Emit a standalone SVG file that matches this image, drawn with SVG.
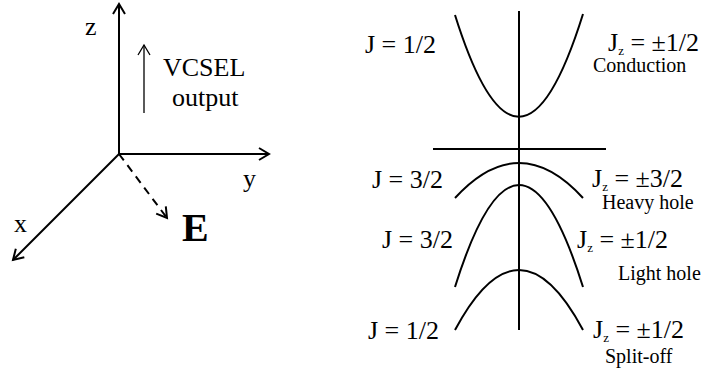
<svg xmlns="http://www.w3.org/2000/svg" width="708" height="372" viewBox="0 0 708 372">
<style>
text{font-family:"Liberation Serif","Times New Roman",serif;fill:#000}
.t{font-size:26px}
.s{font-size:20px}
.sub{font-size:13px}
.ax{stroke:#000;stroke-width:2;fill:none}
.c{stroke:#000;stroke-width:2;fill:none}
</style>
<defs>
<marker id="ah" markerUnits="userSpaceOnUse" markerWidth="16" markerHeight="16" viewBox="-12 -8 14 16" refX="0" refY="0" orient="auto">
<path d="M-10,-6 L0,0 L-10,6" fill="none" stroke="#000" stroke-width="2"/>
</marker>
<marker id="ahs" markerUnits="userSpaceOnUse" markerWidth="16" markerHeight="16" viewBox="-12 -8 14 16" refX="0" refY="0" orient="auto">
<path d="M-10,-6 L0,0 L-10,6" fill="none" stroke="#000" stroke-width="1.3"/>
</marker>
</defs>
<g id="connectors">
<line class="ax" x1="119" y1="154" x2="119" y2="4" marker-end="url(#ah)"/>
<line class="ax" x1="119" y1="154" x2="269" y2="154" marker-end="url(#ah)"/>
<line class="ax" x1="119" y1="154" x2="13" y2="260" marker-end="url(#ah)"/>
<line class="ax" x1="119" y1="154" x2="167" y2="218" stroke-dasharray="8,6" marker-end="url(#ah)"/>
<line x1="144" y1="113" x2="144" y2="45" stroke="#000" stroke-width="1.3" marker-end="url(#ahs)"/>
</g>
<g id="axes-labels">
<text class="t" x="85" y="35">z</text>
<text class="t" x="243" y="187">y</text>
<text class="t" x="14" y="232">x</text>
<text x="182" y="241" style="font-size:40px;font-weight:bold">E</text>
<text class="t" x="163" y="76">VCSEL</text>
<text class="t" x="172" y="106">output</text>
</g>
<g id="band-diagram">
<line class="c" x1="519" y1="11" x2="519" y2="330"/>
<line class="c" x1="433" y1="149" x2="606" y2="149"/>
<path class="c" d="M455,15 Q519,219 583,14"/>
<path class="c" d="M455,198 Q519,128 583,198"/>
<path class="c" d="M455,287 Q519,83 583,287"/>
<path class="c" d="M455,330 Q519,210 583,330"/>
</g>
<g id="conduction">
<text class="t" x="365" y="53">J = 1/2</text>
<text class="t" x="608" y="51">J<tspan class="sub" dy="4">z</tspan><tspan dy="-4"> = ±1/2</tspan></text>
<text class="s" x="593" y="72">Conduction</text>
</g>
<g id="heavy-hole">
<text class="t" x="372" y="188">J = 3/2</text>
<text class="t" x="592" y="187">J<tspan class="sub" dy="4">z</tspan><tspan dy="-4"> = ±3/2</tspan></text>
<text class="s" x="602" y="209">Heavy hole</text>
</g>
<g id="light-hole">
<text class="t" x="382" y="248">J = 3/2</text>
<text class="t" x="577" y="248">J<tspan class="sub" dy="4">z</tspan><tspan dy="-4"> = ±1/2</tspan></text>
<text class="s" x="618" y="280">Light hole</text>
</g>
<g id="split-off">
<text class="t" x="368" y="339">J = 1/2</text>
<text class="t" x="593" y="338">J<tspan class="sub" dy="4">z</tspan><tspan dy="-4"> = ±1/2</tspan></text>
<text class="s" x="605" y="363">Split-off</text>
</g>
</svg>
